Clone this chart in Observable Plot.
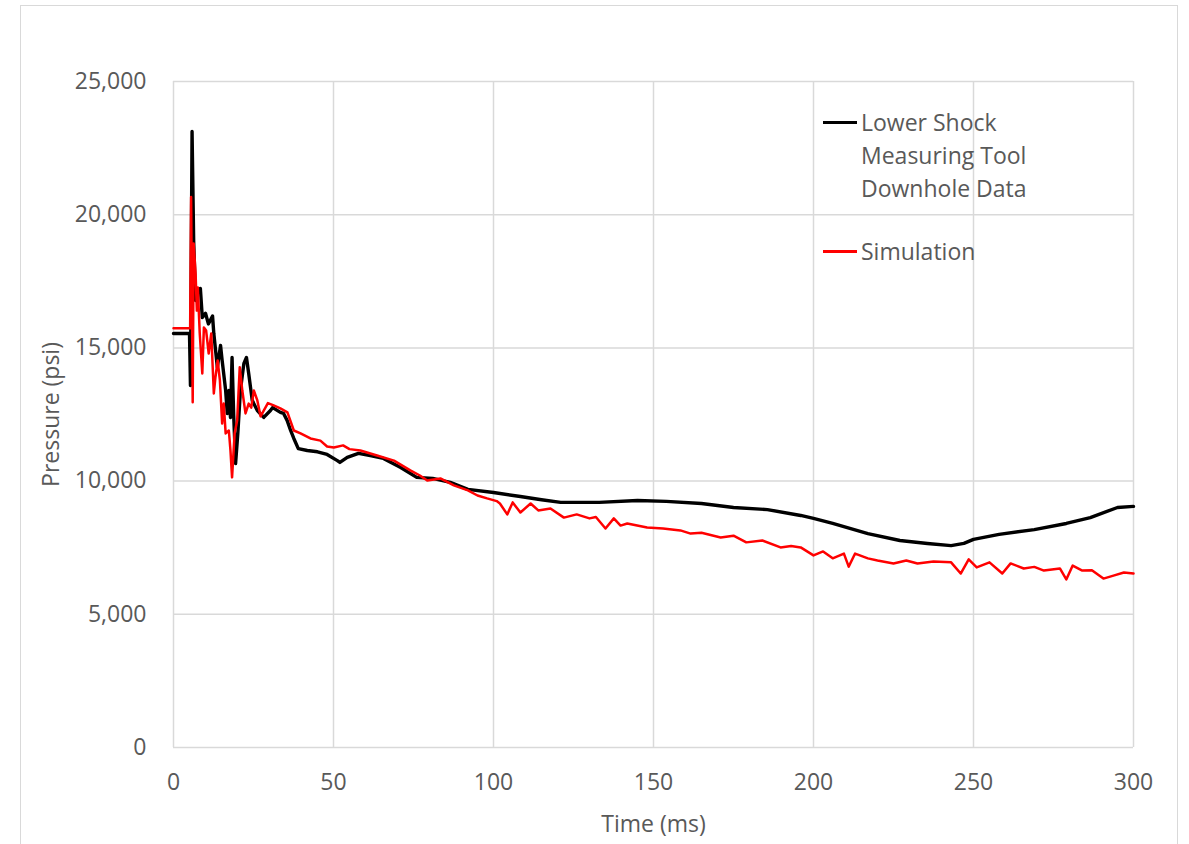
<!DOCTYPE html>
<html>
<head>
<meta charset="utf-8">
<script src="https://cdn.jsdelivr.net/npm/d3@7"></script>
<script src="https://cdn.jsdelivr.net/npm/@observablehq/plot@0.6"></script>
<style>
  body { margin: 0; background: #fff; font-family: "Open Sans", sans-serif; }
  #wrap { position: relative; width: 1189px; height: 844px; overflow: hidden; background: #fff; }
  #frame { position: absolute; left: 20px; top: 5px; width: 1158px; height: 900px; border: 1.5px solid #d9d9d9; box-sizing: border-box; }
  #chart { position: absolute; left: 0; top: 0; }
  .item { position: absolute; left: 823px; color: #595959; font-size: 23px; line-height: 33px; }
  .swatch { position: absolute; left: 0; top: 15px; width: 34px; height: 2.5px; }
  .label { position: absolute; left: 38px; top: 0; white-space: nowrap; }
</style>
</head>
<body>
<div id="wrap">
  <div id="frame"></div>
  <div id="chart"></div>
  <div id="legend"></div>
</div>
<script>
// Series names
const seriesNames = ["Lower Shock\nMeasuring Tool\nDownhole Data", "Simulation"];
const seriesColors = ["#000000", "#ff0000"];

// Lower Shock Measuring Tool Downhole Data
const timeDownhole = [0, 5.0, 5.3, 5.8, 6.3, 6.9, 7.6, 8.4, 9.0, 10.0, 10.9, 12.2, 12.6, 13.7, 14.7, 15.2, 16.3, 16.8, 17.3, 17.8, 18.3, 18.8, 19.4, 20.1, 20.9, 22.0, 22.8, 23.5, 24.6, 26.2, 28.2, 30.3, 31.0, 33.4, 34.4, 35.5, 36.6, 37.6, 39.0, 41.8, 45, 48.0, 51.2, 52, 54.3, 57.8, 61.5, 65.6, 71, 76, 81, 86.5, 92, 100, 108.4, 115, 121, 133, 145, 154, 165, 175, 185.6, 196, 200, 206, 217, 227, 235.6, 243, 247, 250, 258, 269, 279, 286.5, 295, 300];
const pressureDownhole = [15540, 15540, 13590, 23125, 19030, 16780, 17160, 17230, 16140, 16300, 15900, 16200, 15540, 14270, 15090, 14530, 13400, 12540, 13400, 12390, 14640, 12500, 10660, 11790, 13400, 14420, 14640, 14040, 13030, 12650, 12390, 12650, 12760, 12580, 12540, 12280, 11900, 11600, 11220, 11150, 11100, 11000, 10770, 10700, 10890, 11040, 10960, 10850, 10510, 10140, 10100, 9950, 9690, 9570, 9420, 9300, 9200, 9200, 9270, 9240, 9160, 9010, 8930, 8710, 8600, 8410, 8030, 7770, 7660, 7580, 7660, 7810, 8000, 8180, 8410, 8630, 9010, 9050];

// Simulation
const timeSim = [0, 5.2, 5.5, 6.0, 6.3, 6.9, 7.3, 7.6, 8.2, 9.0, 9.5, 10.2, 11.0, 11.8, 12.6, 13.1, 13.8, 14.5, 15.2, 15.7, 16.3, 17.3, 17.8, 18.3, 19.1, 19.9, 20.7, 21.5, 22.5, 23.5, 24.3, 25.1, 26.2, 27.2, 29.5, 31.3, 33.4, 35.6, 37.6, 39.7, 42.8, 45.9, 48, 50.1, 53, 55, 58.4, 63.6, 68.9, 74, 77, 79.3, 83.4, 87.6, 92, 95, 98, 101, 102, 104.3, 106, 108.4, 111.6, 114, 117.8, 122, 126, 130, 132, 135, 137.6, 139.7, 141.8, 148, 153, 158.4, 161.6, 165, 171, 175, 179, 184, 189.7, 193, 196, 200, 203, 206, 209.5, 211, 213, 217, 220, 225, 229, 232.5, 237.5, 243, 246, 248.5, 251, 255, 259, 261.6, 265.7, 269, 272, 277, 279, 281, 284, 287, 290.6, 294, 297, 300];
const pressureSim = [15740, 15740, 20660, 12960, 18920, 17790, 16400, 17270, 15540, 14040, 15770, 15650, 14790, 15540, 13290, 13890, 14530, 13780, 12160, 12910, 11790, 11900, 11150, 10140, 11790, 12280, 14270, 13400, 12540, 12910, 12760, 13400, 13030, 12430, 12930, 12840, 12730, 12580, 11900, 11790, 11600, 11520, 11300, 11260, 11340, 11200, 11150, 10960, 10770, 10400, 10210, 10020, 10100, 9840, 9650, 9460, 9350, 9250, 9160, 8750, 9200, 8820, 9160, 8900, 8970, 8630, 8750, 8600, 8650, 8220, 8600, 8330, 8410, 8260, 8220, 8150, 8030, 8060, 7880, 7950, 7700, 7770, 7510, 7560, 7510, 7210, 7360, 7100, 7280, 6790, 7280, 7100, 7020, 6910, 7020, 6910, 6980, 6950, 6530, 7060, 6760, 6950, 6530, 6910, 6720, 6780, 6640, 6720, 6310, 6830, 6640, 6650, 6340, 6460, 6570, 6530];

// Axis ticks
const xTicks = [0, 50, 100, 150, 200, 250, 300];
const yTicks = [0, 5000, 10000, 15000, 20000, 25000];
const xLabel = "Time (ms)";
const yLabel = "Pressure (psi)";

const downhole = timeDownhole.map((t, i) => ({t, p: pressureDownhole[i]}));
const sim = timeSim.map((t, i) => ({t, p: pressureSim[i]}));

const gridStyle = {stroke: "#d9d9d9", strokeOpacity: 1, strokeWidth: 1.5};

const plot = Plot.plot({
  width: 1189,
  height: 844,
  marginLeft: 173,
  marginRight: 56,
  marginTop: 81,
  marginBottom: 97,
  style: {fontFamily: "Open Sans", fontSize: "23px", color: "#595959", background: "transparent", overflow: "visible"},
  x: {domain: [0, 300]},
  y: {domain: [0, 25000]},
  marks: [
    Plot.gridX(xTicks, gridStyle),
    Plot.gridY(yTicks, gridStyle),
    Plot.axisX(xTicks, {tickSize: 0, tickPadding: 26, tickFormat: d3.format(","), label: xLabel, labelAnchor: "center", labelArrow: "none", labelOffset: 84}),
    Plot.axisY(yTicks, {tickSize: 0, tickPadding: 27, tickFormat: d3.format(","), label: yLabel, labelAnchor: "center", labelArrow: "none", labelOffset: 131}),
    Plot.line(downhole, {x: "t", y: "p", stroke: seriesColors[0], strokeWidth: 3.4}),
    Plot.line(sim, {x: "t", y: "p", stroke: seriesColors[1], strokeWidth: 2.5})
  ]
});
document.getElementById("chart").appendChild(plot);

// Legend (HTML overlay)
const legend = document.getElementById("legend");
const legendTops = [106, 235];
seriesNames.forEach((name, i) => {
  const item = document.createElement("div");
  item.className = "item";
  item.style.top = legendTops[i] + "px";
  const sw = document.createElement("div");
  sw.className = "swatch";
  sw.style.background = seriesColors[i];
  const lab = document.createElement("div");
  lab.className = "label";
  lab.innerHTML = name.split("\n").join("<br>");
  item.appendChild(sw);
  item.appendChild(lab);
  legend.appendChild(item);
});
</script>
</body>
</html>
